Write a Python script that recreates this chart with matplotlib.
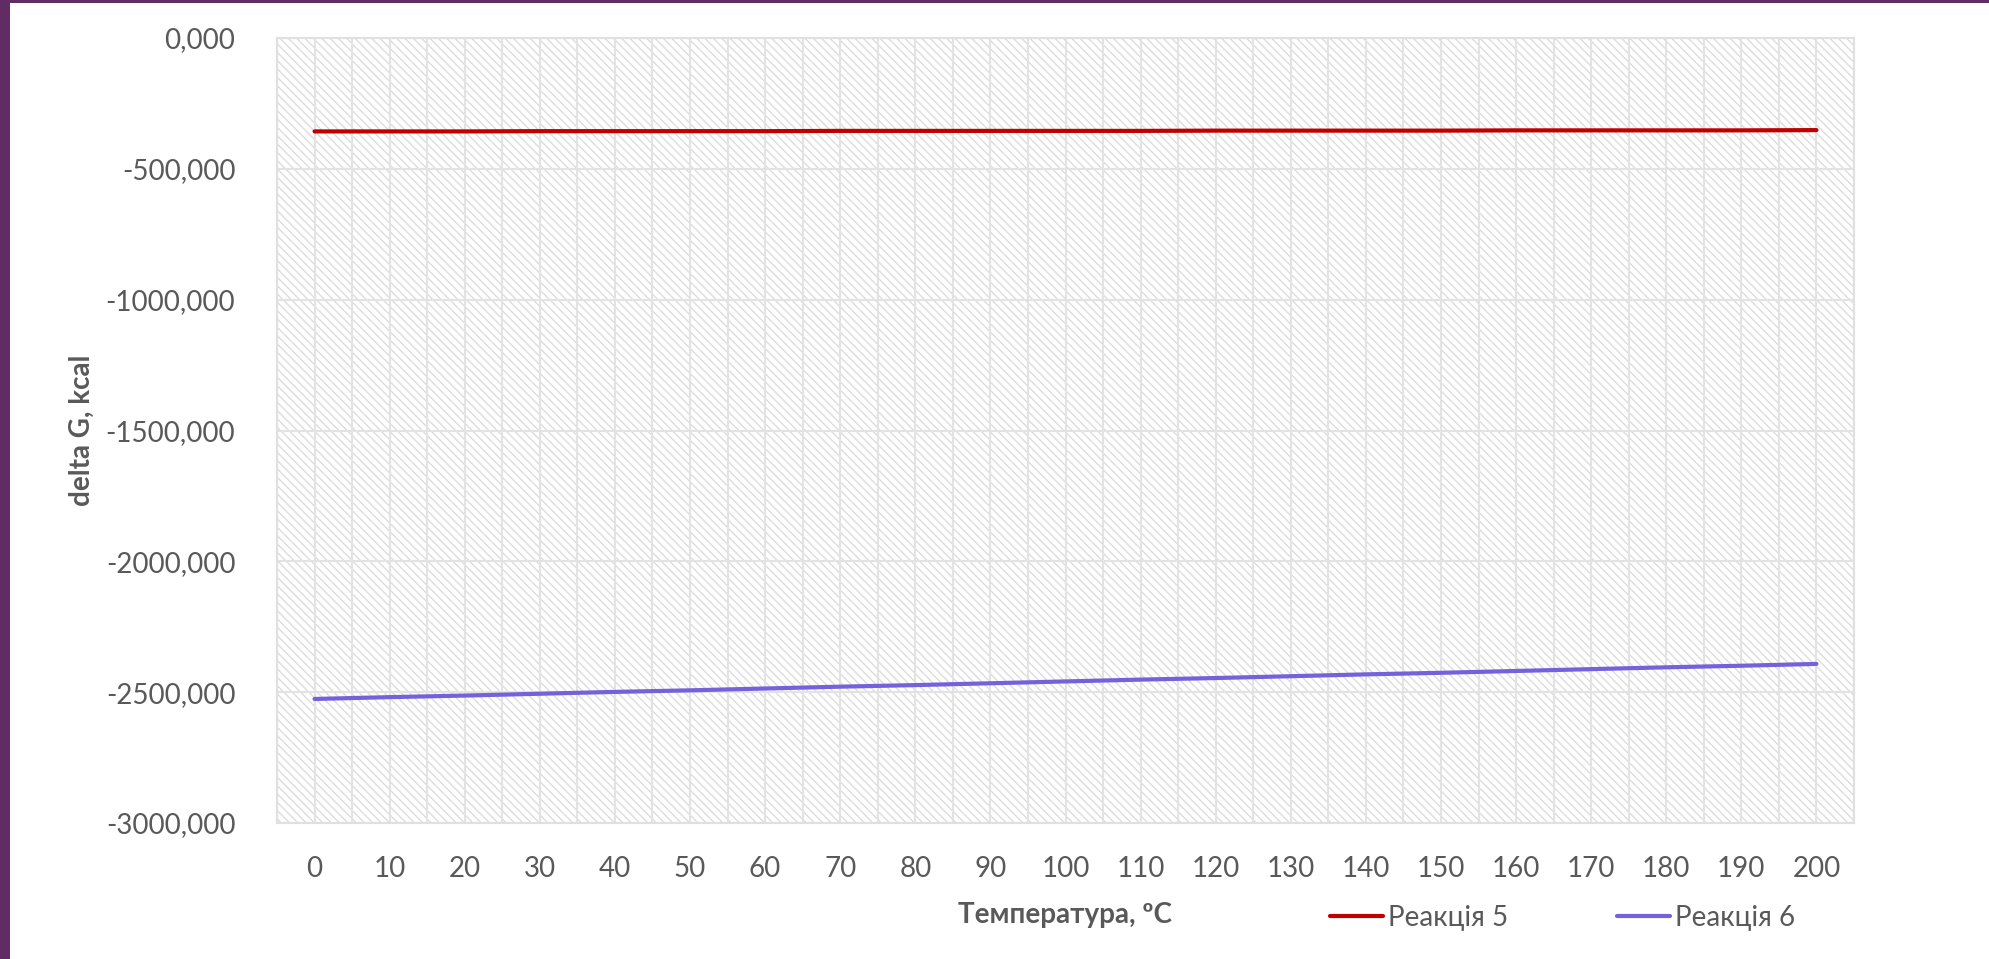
import numpy as np
import matplotlib.pyplot as plt
from matplotlib.patches import Rectangle
from matplotlib.ticker import FuncFormatter, MultipleLocator

plt.rcParams['font.family'] = ['Lato', 'Noto Sans', 'DejaVu Sans']
plt.rcParams['hatch.color'] = '#dadada'
plt.rcParams['hatch.linewidth'] = 0.9

# Gibbs energy vs temperature
temps = [0, 10, 20, 30, 40, 50, 60, 70, 80, 90, 100,
         110, 120, 130, 140, 150, 160, 170, 180, 190, 200]
reaction5 = [-357, -357, -357, -356, -356, -356, -356, -355, -355, -355, -355,
             -355, -354, -354, -354, -354, -353, -353, -353, -353, -352]
reaction6 = [-2526, -2519, -2513, -2506, -2499, -2493, -2486, -2479, -2473, -2466, -2459,
             -2452, -2446, -2439, -2432, -2426, -2419, -2412, -2405, -2399, -2392]
labels = ['Реакція 5', 'Реакція 6']
colors = ['#C00000', '#7561DB']

text_color = '#595959'
grid_color = '#e3e3e3'

fig = plt.figure(figsize=(19.9, 9.59), dpi=100)
ax = fig.add_axes([277 / 1990, 1 - 823 / 959, (1854 - 277) / 1990, (823 - 38) / 959])

# hatched plot area background
ax.add_patch(Rectangle((0, 0), 1, 1, transform=ax.transAxes, facecolor='white',
                       hatch='\\\\\\\\', edgecolor='#dadada', linewidth=0, zorder=0))

for vals, lab, col in zip([reaction5, reaction6], labels, colors):
    ax.plot(temps, vals, color=col, linewidth=3.0, solid_capstyle='round', label=lab, zorder=3)

ax.set_xlim(-5, 205)
ax.set_ylim(-3000, 0)
ax.set_xticks(temps)
ax.xaxis.set_minor_locator(MultipleLocator(5))
ax.yaxis.set_major_locator(MultipleLocator(500))
ax.yaxis.set_major_formatter(FuncFormatter(lambda v, p: f'{v:.3f}'.replace('.', ',')))

ax.grid(True, which='both', axis='x', color=grid_color, linewidth=1.5, zorder=1)
ax.grid(True, which='major', axis='y', color=grid_color, linewidth=1.5, zorder=1)
ax.set_axisbelow(True)

for s in ax.spines.values():
    s.set_color('#e0e0e0')
    s.set_linewidth(1.5)

ax.tick_params(axis='both', which='both', length=0, labelsize=20, labelcolor=text_color)
ax.tick_params(axis='y', pad=30)
ax.tick_params(axis='x', pad=24)

ax.set_xlabel('Температура, ºC', fontsize=20, fontweight='bold', color=text_color, labelpad=14)
ax.set_ylabel('delta G, kcal', fontsize=20, fontweight='bold', color=text_color, labelpad=8)

fig.legend(loc='center left', bbox_to_anchor=(1330 / 1990, 1 - 918 / 959), ncol=2,
           frameon=False, fontsize=20, labelcolor=text_color, handlelength=1.9,
           handletextpad=0.2, columnspacing=3.9, borderpad=0, borderaxespad=0)

# purple frame on the left and top edge
fig.patches.append(Rectangle((0, 0), 10 / 1990, 1, transform=fig.transFigure,
                             facecolor='#612B63', edgecolor='none'))
fig.patches.append(Rectangle((0, 1 - 3 / 959), 1, 3 / 959, transform=fig.transFigure,
                             facecolor='#612B63', edgecolor='none'))

fig.savefig('out.png', dpi=100)
